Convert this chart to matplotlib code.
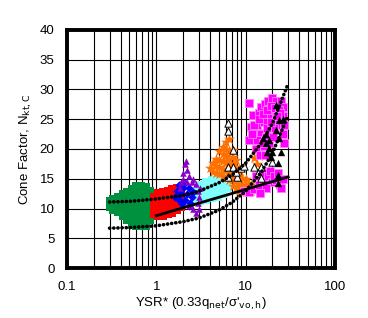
import matplotlib
matplotlib.use("Agg")
import matplotlib.pyplot as plt
from matplotlib.ticker import FixedLocator, NullFormatter

plt.rcParams['font.family'] = ['Liberation Sans', 'DejaVu Sans']

# --- data ---
green_x = [0.30, 0.30, 0.33, 0.33, 0.33, 0.37, 0.37, 0.37, 0.37,
           0.42, 0.42, 0.42, 0.42, 0.42, 0.47, 0.47, 0.47, 0.47, 0.47, 0.47,
           0.53, 0.53, 0.53, 0.53, 0.53, 0.53, 0.53,
           0.60, 0.60, 0.60, 0.60, 0.60, 0.60, 0.60, 0.60,
           0.68, 0.68, 0.68, 0.68, 0.68, 0.68, 0.68, 0.68,
           0.76, 0.76, 0.76, 0.76, 0.76, 0.76, 0.76, 0.76,
           0.84, 0.84, 0.84, 0.84, 0.84, 0.84]
green_y = [10.2, 11.2, 9.8, 10.8, 11.6, 9.5, 10.5, 11.5, 12.0,
           8.8, 9.8, 10.8, 11.8, 12.4, 8.0, 9.0, 10.0, 11.0, 12.0, 12.8,
           7.2, 8.2, 9.2, 10.2, 11.2, 12.2, 13.2,
           7.0, 8.0, 9.0, 10.0, 11.0, 12.0, 13.0, 13.8,
           7.0, 8.0, 9.0, 10.0, 11.0, 12.0, 13.0, 13.8,
           7.0, 8.0, 9.0, 10.0, 11.0, 12.0, 13.0, 13.6,
           8.0, 9.0, 10.0, 11.0, 12.0, 13.0]

red_x = [0.95, 0.95, 0.95, 0.95, 1.05, 1.05, 1.05, 1.05, 1.05,
         1.2, 1.2, 1.2, 1.2, 1.2, 1.35, 1.35, 1.35, 1.35, 1.35,
         1.5, 1.5, 1.5, 1.5, 1.5, 1.7, 1.7, 1.7, 1.7, 1.7, 1.9, 1.9, 1.9]
red_y = [9.0, 10.0, 11.0, 12.0, 8.7, 9.7, 10.7, 11.7, 12.6,
         8.8, 9.8, 10.8, 11.8, 12.8, 9.0, 10.0, 11.0, 12.0, 13.0,
         9.3, 10.3, 11.3, 12.3, 13.2, 9.8, 10.8, 11.8, 12.8, 13.5, 10.3, 11.3, 12.3]

blue_x = [1.6, 1.7, 1.8, 1.9, 2.0, 2.1, 2.2, 2.3, 2.4, 2.5, 2.6, 1.8, 2.1, 2.35, 1.95]
blue_y = [12.0, 13.0, 11.5, 12.5, 13.5, 11.5, 12.5, 13.5, 11.0, 12.0, 12.8, 14.0, 14.3, 10.5, 10.8]

purple_x = [2.0, 2.1, 2.2, 2.0, 2.3, 1.9, 2.2, 2.6, 2.8, 2.9, 3.0, 2.9, 3.0,
            2.8, 2.6, 2.4, 3.1, 2.5, 2.15, 1.85]
purple_y = [16.0, 17.5, 16.5, 15.0, 15.5, 14.5, 14.5, 15.0, 14.2, 13.0, 12.0, 11.0, 10.0,
            9.2, 10.0, 10.5, 13.5, 14.5, 18.0, 13.5]

cyan_x = [2.7, 2.7, 2.7, 3.1, 3.1, 3.1, 3.1, 3.6, 3.6, 3.6, 3.6,
          4.2, 4.2, 4.2, 4.2, 4.9, 4.9, 4.9, 4.9, 4.9,
          5.7, 5.7, 5.7, 5.7, 5.7, 6.4, 6.4, 6.4]
cyan_y = [11.2, 12.2, 13.0, 11.3, 12.3, 13.3, 14.0, 11.5, 12.5, 13.5, 14.5,
          11.8, 12.8, 13.8, 14.8, 12.0, 13.0, 14.0, 15.0, 15.6,
          12.5, 13.5, 14.5, 15.5, 16.0, 13.5, 14.5, 15.5]

orange_x = [4.0, 4.3, 4.3, 4.7, 4.7, 4.7, 5.1, 5.1, 5.1, 5.1, 5.6, 5.6, 5.6, 5.6,
            5.6, 6.1, 6.1, 6.1, 6.1, 6.1, 6.1, 6.6, 6.6, 6.6, 6.6, 6.6, 6.6,
            7.2, 7.2, 7.2, 7.2, 7.2, 7.2, 7.8, 7.8, 7.8, 7.8, 7.8, 8.5, 8.5, 8.5,
            8.5, 9.2, 9.2, 9.2, 10.0, 10.0, 10.0, 10.8, 10.8, 11.6, 11.6, 12.4,
            12.5, 13.0, 13.2, 14.0, 14.5, 15.0, 13.5, 14.2]
orange_y = [16.8, 16.2, 17.6, 16.0, 17.2, 18.4, 15.8, 17.0, 18.2, 19.6, 15.5, 16.7, 17.9,
            19.1, 20.3, 15.2, 16.4, 17.6, 18.8, 20.0, 21.2, 14.8, 16.0, 17.2, 18.4, 19.6,
            21.6, 13.8, 15.0, 16.2, 17.4, 18.6, 19.8, 13.4, 14.6, 15.8, 17.0, 18.2, 13.0,
            14.2, 15.4, 16.6, 12.8, 14.0, 15.2, 12.8, 14.0, 15.0, 13.0, 14.2, 13.0,
            14.0, 13.4, 18.5, 20.0, 22.5, 21.5, 23.0, 19.8, 17.5, 18.8]

magenta_x = [10.8, 12.0, 11.4, 11.0, 12.5, 13.5, 14.0, 15.0, 16.5, 18.0, 20.0, 22.0,
             25.0, 26.5, 26.5, 25.0, 23.0, 20.0, 18.0, 16.0, 15.0, 17.0, 19.0, 21.0,
             13.0, 14.5, 16.0, 26.0, 27.0, 12.5, 14.0, 15.5, 17.5, 19.5, 21.5, 23.5,
             24.5, 13.5, 15.5, 17.5, 19.5, 22.5, 11.8, 16.5, 18.5, 20.5, 27.0,
             9.5, 11.0, 12.5, 14.0, 15.5, 16.0, 18.0, 19.0, 20.0, 22.0, 24.0, 25.0,
             17.0, 13.0, 21.0, 23.0, 26.0, 14.5]
magenta_y = [27.7, 25.7, 23.7, 21.5, 22.5, 24.0, 26.0, 27.0, 27.5, 28.0, 28.5, 28.0,
             28.0, 27.0, 25.5, 24.0, 25.0, 26.0, 25.5, 24.5, 22.5, 22.0, 23.0, 23.5,
             20.0, 19.0, 20.5, 22.5, 21.0, 24.0, 25.0, 25.8, 26.5, 27.2, 26.8, 26.5,
             26.0, 21.5, 21.0, 23.5, 24.5, 25.5, 22.5, 19.0, 21.0, 22.0, 24.0,
             13.0, 12.8, 13.3, 14.0, 15.0, 16.0, 15.5, 16.3, 14.5, 14.8, 14.0, 13.5,
             13.5, 15.5, 15.5, 16.0, 15.0, 12.6]

open_x = [6.3, 6.3, 6.4, 7.3, 8.8, 8.1, 6.3, 7.3, 12.3, 14.7, 13.6, 14.7, 9.5, 20.0, 7.8]
open_y = [24.4, 23.0, 17.0, 17.0, 16.8, 15.3, 15.3, 19.8, 17.0, 17.0, 16.0, 15.1, 17.2, 17.8, 16.2]

black_x = [21.7, 23.5, 21.7, 23.5, 15.5, 16.8, 18.1, 17.0, 18.5, 19.1, 20.0,
           22.8, 22.8, 22.8, 26.0, 25.0, 17.5]
black_y = [27.4, 24.9, 23.2, 21.8, 21.8, 21.0, 20.2, 22.5, 21.5, 18.7, 19.5,
           17.6, 15.6, 14.3, 25.0, 19.5, 19.5]

# trend lines
upper_x = [0.3, 0.5, 1, 2, 3, 5, 7, 10, 15, 20, 30]
upper_y = [11.1, 11.2, 11.6, 12.2, 12.9, 14.3, 15.6, 17.6, 21.0, 24.3, 31.0]
middle_x = [0.3, 0.5, 1, 2, 3, 5, 7, 10, 15, 20, 30]
middle_y = [6.7, 6.8, 7.1, 7.8, 8.4, 9.7, 11.0, 12.9, 16.1, 19.3, 25.7]
solid_x = [1, 30]
solid_y = [8.8, 15.3]

fig = plt.figure(figsize=(3.68, 3.18), dpi=100)
ax = fig.add_axes([0.182, 0.157, 0.728, 0.749])

ax.set_xscale('log')
ax.set_xlim(0.1, 100)
ax.set_ylim(0, 40)

ax.scatter(green_x, green_y, marker='s', s=40, color='#00913f', lw=0, zorder=2)
ax.scatter(red_x, red_y, marker='s', s=40, color='#ff0000', lw=0, zorder=2)
ax.scatter(cyan_x, cyan_y, marker='s', s=40, color='#80ffff', lw=0, zorder=2)
ax.scatter(blue_x, blue_y, marker='D', s=18, color='#0000ff', lw=0, zorder=3)
ax.scatter(purple_x, purple_y, marker='^', s=22, color='#8a00c8', lw=0, zorder=3)
ax.scatter(orange_x, orange_y, marker='*', s=70, color='#ff7000', lw=0, zorder=3)
ax.scatter(magenta_x, magenta_y, marker='s', s=32, color='#ff00ff',
           edgecolor='#ff80ff', lw=0.6, zorder=3)
ax.scatter(open_x, open_y, marker='^', s=28, facecolor='white',
           edgecolor='black', lw=0.7, zorder=4)
ax.scatter(black_x, black_y, marker='^', s=28, color='black', lw=0, zorder=4)

dots = (0, (0.05, 1.1))
ax.plot(upper_x, upper_y, color='black', lw=2.6, linestyle=dots,
        dash_capstyle='round', zorder=5)
ax.plot(middle_x, middle_y, color='black', lw=2.6, linestyle=dots,
        dash_capstyle='round', zorder=5)
ax.plot(solid_x, solid_y, color='black', lw=2.0, zorder=5)

ax.xaxis.set_major_locator(FixedLocator([0.1, 1, 10, 100]))
ax.set_xticklabels(['0.1', '1', '10', '100'])
ax.xaxis.set_minor_formatter(NullFormatter())
ax.set_yticks(range(0, 41, 5))
ax.tick_params(which='both', length=0, labelsize=9.5, pad=9)

ax.grid(True, which='both', axis='x', color='black', lw=0.8)
ax.grid(True, which='major', axis='y', color='black', lw=0.8)
ax.set_axisbelow(True)

for sp in ax.spines.values():
    sp.set_linewidth(2.8)

ax.set_xlabel("YSR* (0.33q$_{\\rm net}$/σ'$_{\\rm vo,h}$)", fontsize=9.5, labelpad=2)
ax.set_ylabel("Cone Factor, N$_{\\rm kt,C}$", fontsize=9.5, labelpad=4)

fig.savefig('out.png', dpi=100)
